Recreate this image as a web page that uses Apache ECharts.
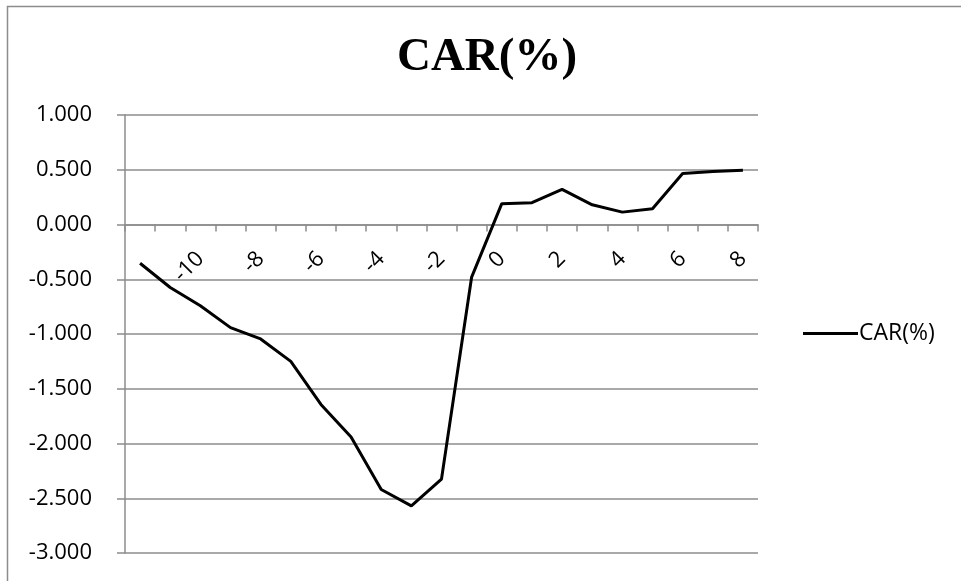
<!DOCTYPE html>
<html>
<head>
<meta charset="utf-8">
<title>CAR(%)</title>
<script src="https://cdn.jsdelivr.net/npm/echarts@6/dist/echarts.min.js"></script>
<style>
  html, body { margin: 0; padding: 0; background: #ffffff; }
  #chart { width: 961px; height: 581px; }
</style>
</head>
<body>
<div id="chart"></div>
<script>
// Event days relative to the announcement
const eventDays = ['-12', '-11', '-10', '-9', '-8', '-7', '-6', '-5', '-4', '-3', '-2',
                   '-1', '0', '1', '2', '3', '4', '5', '6', '7', '8'];

// Cumulative abnormal return, in percent
const carValues = [-0.354, -0.575, -0.742, -0.942, -1.045, -1.250, -1.643, -1.940, -2.420, -2.570,
                   -2.325, -0.480, 0.190, 0.199, 0.320, 0.180, 0.113, 0.144, 0.465, 0.483, 0.495];

const seriesName = 'CAR(%)';
const titleText = 'CAR(%)';

// Value axis range and step
const yMin = -3;
const yMax = 1;
const yStep = 0.5;

// Plot box
const gridTop = 115;
const gridBottom = 28;
const chartHeight = 581;
const plotHeight = chartHeight - gridTop - gridBottom;
// The category axis crosses the value axis at zero
const zeroOffset = -plotHeight * (0 - yMin) / (yMax - yMin);

const gridColor = '#8c8c8c';
const labelFont = '"Open Sans", "Liberation Sans", sans-serif';
const legendIcon = 'path://M0,0 L55,0 L55,3 L0,3 Z';

const chart = echarts.init(document.getElementById('chart'), null, { renderer: 'canvas' });

chart.setOption({
  backgroundColor: '#ffffff',
  animation: false,
  title: {
    text: titleText,
    left: 482,
    top: 29,
    textAlign: 'center',
    textStyle: {
      fontFamily: '"Liberation Serif", "Times New Roman", serif',
      fontWeight: 'bold',
      fontSize: 47,
      color: '#000000'
    }
  },
  graphic: [{
    type: 'rect',
    shape: { x: 7.5, y: 6.5, width: 980, height: 600 },
    style: { fill: 'none', stroke: '#8c8c8c', lineWidth: 1.5 },
    silent: true,
    z: 0
  }],
  legend: {
    orient: 'vertical',
    left: 803,
    top: 322,
    padding: 0,
    itemWidth: 55,
    itemHeight: 14,
    itemGap: 0,
    data: [{ name: seriesName, icon: legendIcon }],
    textStyle: { fontFamily: labelFont, fontSize: 23, color: '#000000', padding: [0, 0, 0, -4] },
    itemStyle: { color: '#000000' }
  },
  grid: {
    left: 125,
    right: 203,
    top: gridTop,
    bottom: gridBottom,
    containLabel: false,
    outerBoundsMode: 'none'
  },
  xAxis: {
    type: 'category',
    data: eventDays,
    boundaryGap: true,
    position: 'bottom',
    offset: zeroOffset,
    axisLine: { show: true, onZero: false, lineStyle: { color: gridColor, width: 1.5 } },
    axisTick: { show: true, alignWithLabel: false, interval: 0, length: 7, lineStyle: { color: gridColor, width: 1.5 } },
    axisLabel: {
      interval: function (index) { return index > 0 && index % 2 === 0; },
      rotate: 45,
      margin: 31,
      fontFamily: labelFont,
      fontSize: 22,
      color: '#000000'
    },
    splitLine: { show: false }
  },
  yAxis: {
    type: 'value',
    min: yMin,
    max: yMax,
    interval: yStep,
    axisLine: { show: true, lineStyle: { color: gridColor, width: 1.5 } },
    axisTick: { show: true, length: 8, lineStyle: { color: gridColor, width: 1.5 } },
    axisLabel: {
      formatter: function (v) { return v.toFixed(3); },
      margin: 33,
      fontFamily: labelFont,
      fontSize: 22,
      color: '#000000'
    },
    splitLine: { show: true, lineStyle: { color: gridColor, width: 1.5 } }
  },
  series: [{
    name: seriesName,
    type: 'line',
    data: carValues,
    symbol: 'none',
    smooth: false,
    lineStyle: { color: '#000000', width: 3 },
    itemStyle: { color: '#000000' },
    z: 5
  }]
});
</script>
</body>
</html>
